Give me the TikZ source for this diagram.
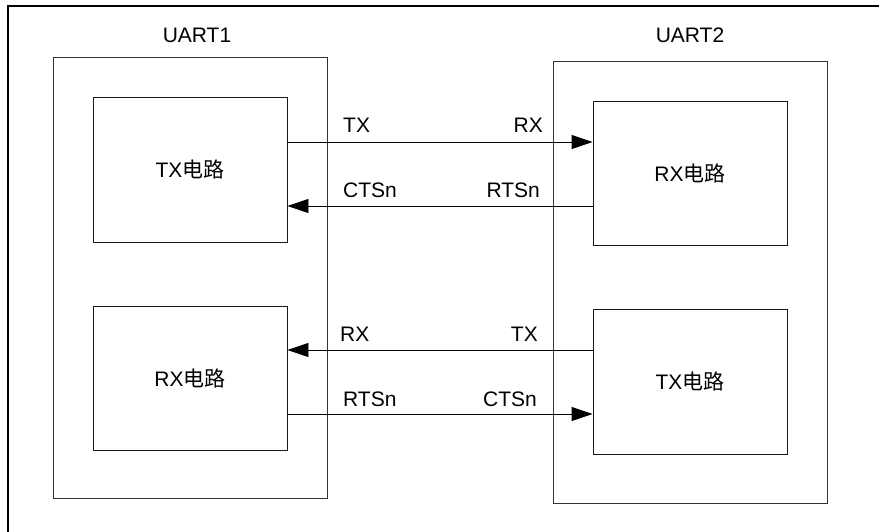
\documentclass[tikz,border=0pt]{standalone}
\usepackage{fontspec}
\setmainfont{Liberation Sans}
\newfontfamily\cjk{Noto Sans CJK SC}
\usetikzlibrary{arrows.meta,positioning,calc}
\tikzset{
  base/.style={font=\fontsize{21}{24}\selectfont, inner sep=0pt, text=black},
  uart/.style={rectangle, draw=black!80, line width=0.9pt, minimum width=274pt, minimum height=441pt},
  box/.style={base, rectangle, draw=black!90, line width=0.9pt, minimum width=194pt, minimum height=145pt},
  arr/.style={-{Triangle[length=21pt,width=14pt]}, line width=0.9pt, draw=black},
  lbl/.style={base},
}

\begin{document}
\begin{tikzpicture}[x=1pt,y=-1pt]
  \useasboundingbox (0,0) rectangle (879,531);
  \clip (0,0) rectangle (879,531);
  % frame
  \draw[line width=2pt] (8,540) |- (890,6);
  % UART blocks
  \node[uart] (u1) at (190,277.5) {};
  \node[uart, minimum height=442pt] (u2) at (690,282) {};
  \node[base, anchor=base] (u1lbl) at (197,42) {UART1};
  \node[base, anchor=base] (u2lbl) at (690,42) {UART2};
  % circuits
  \node[box] (txL) at (190,169.5) {TX{\cjk 电路}};
  \node[box, minimum height=144pt] (rxL) at (190,378) {RX{\cjk 电路}};
  \node[box, minimum height=144pt] (rxR) at (690,173) {RX{\cjk 电路}};
  \node[box] (txR) at (690,381.5) {TX{\cjk 电路}};
  % signal levels
  \coordinate (l1) at (0,142);
  \coordinate (l2) at (0,206);
  \coordinate (l3) at (0,350);
  \coordinate (l4) at (0,414);
  \draw[arr] (txL.east |- l1) -- (rxR.west |- l1);
  \draw[arr] (rxR.west |- l2) -- (txL.east |- l2);
  \draw[arr] (txR.west |- l3) -- (rxL.east |- l3);
  \draw[arr] (rxL.east |- l4) -- (txR.west |- l4);
  % signal names
  \node[lbl, anchor=base west] (n1a) at (343,132) {TX};
  \node[lbl, anchor=base east] (n1b) at (543,132) {RX};
  \node[lbl, anchor=base west] (n2a) at (343,197) {CTSn};
  \node[lbl, anchor=base east] (n2b) at (540,197) {RTSn};
  \node[lbl, anchor=base west] (n3a) at (340,341) {RX};
  \node[lbl, anchor=base east] (n3b) at (538,341) {TX};
  \node[lbl, anchor=base west] (n4a) at (343,406) {RTSn};
  \node[lbl, anchor=base east] (n4b) at (537,406) {CTSn};
\end{tikzpicture}
\end{document}
